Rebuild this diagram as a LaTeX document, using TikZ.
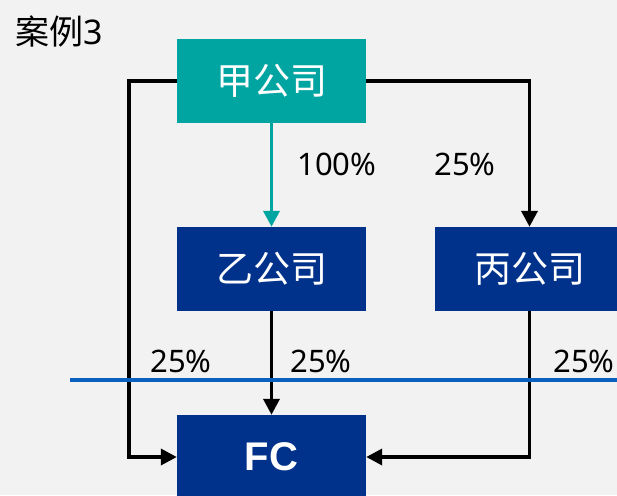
\documentclass[tikz,border=0pt]{standalone}
\usepackage{fontspec}
\setmainfont{Noto Sans}
\newfontfamily\cjk{Noto Sans CJK SC}
\newfontfamily\fcfont{Liberation Sans}
\usetikzlibrary{arrows.meta}
\definecolor{bggray}{RGB}{242,242,242}
\definecolor{teal}{RGB}{0,164,160}
\definecolor{navy}{RGB}{0,50,140}
\definecolor{lineblue}{RGB}{10,96,190}
\tikzstyle{parent} = [rectangle, minimum width=189pt, minimum height=84pt, text centered, fill=teal, text=white, font=\fontsize{37}{40}\selectfont\cjk]
\tikzstyle{sub} = [rectangle, minimum width=189pt, minimum height=84pt, text centered, fill=navy, text=white, font=\fontsize{37}{40}\selectfont\cjk]
\tikzstyle{pct} = [text centered, font=\fontsize{31}{34}\selectfont]
\tikzstyle{arrow} = [line width=3.6pt, -{Triangle[width=16pt,length=16pt]}]
\tikzstyle{tealarrow} = [arrow, draw=teal]

\begin{document}
\begin{tikzpicture}[x=1pt, y=-1pt, node distance=188pt]
		\fill [bggray] (0,0) rectangle (617,495);
		\useasboundingbox (0,0) rectangle (617,495);
		\node (title) [anchor=west, font=\fontsize{34}{38}\selectfont] at (12,31) {{\cjk 案例}3};

		\node (jia) [parent] at (271.5,81) {甲公司};
		\node (yi) [sub, below of=jia] {乙公司};
		\node (bing) [sub, right of=yi, node distance=258pt] {丙公司};
		\node (fc) [sub, below of=yi, font=\fontsize{40}{44}\selectfont\fcfont\bfseries] {FC};

		\draw [tealarrow] (jia) -- (yi);
		\draw [arrow] (yi) -- (fc);
		\draw [arrow] (jia.west) -- ++(-48,0) |- (fc.west);
		\draw [arrow] (jia.east) -| (bing.north);
		\draw [arrow] (bing.south) |- (fc.east);

		% dividing line
		\coordinate (cutL) at (70,380);
		\coordinate (cutR) at (617,380);
		\draw [lineblue, line width=4pt] (cutL) -- (cutR);

		\node (p1) [pct] at (337,164) {100\%};
		\node (p2) [pct] at (465,164) {25\%};
		\node (p3) [pct] at (181,361) {25\%};
		\node (p4) [pct] at (321,361) {25\%};
		\node (p5) [pct] at (584,361) {25\%};
\end{tikzpicture}
\end{document}
